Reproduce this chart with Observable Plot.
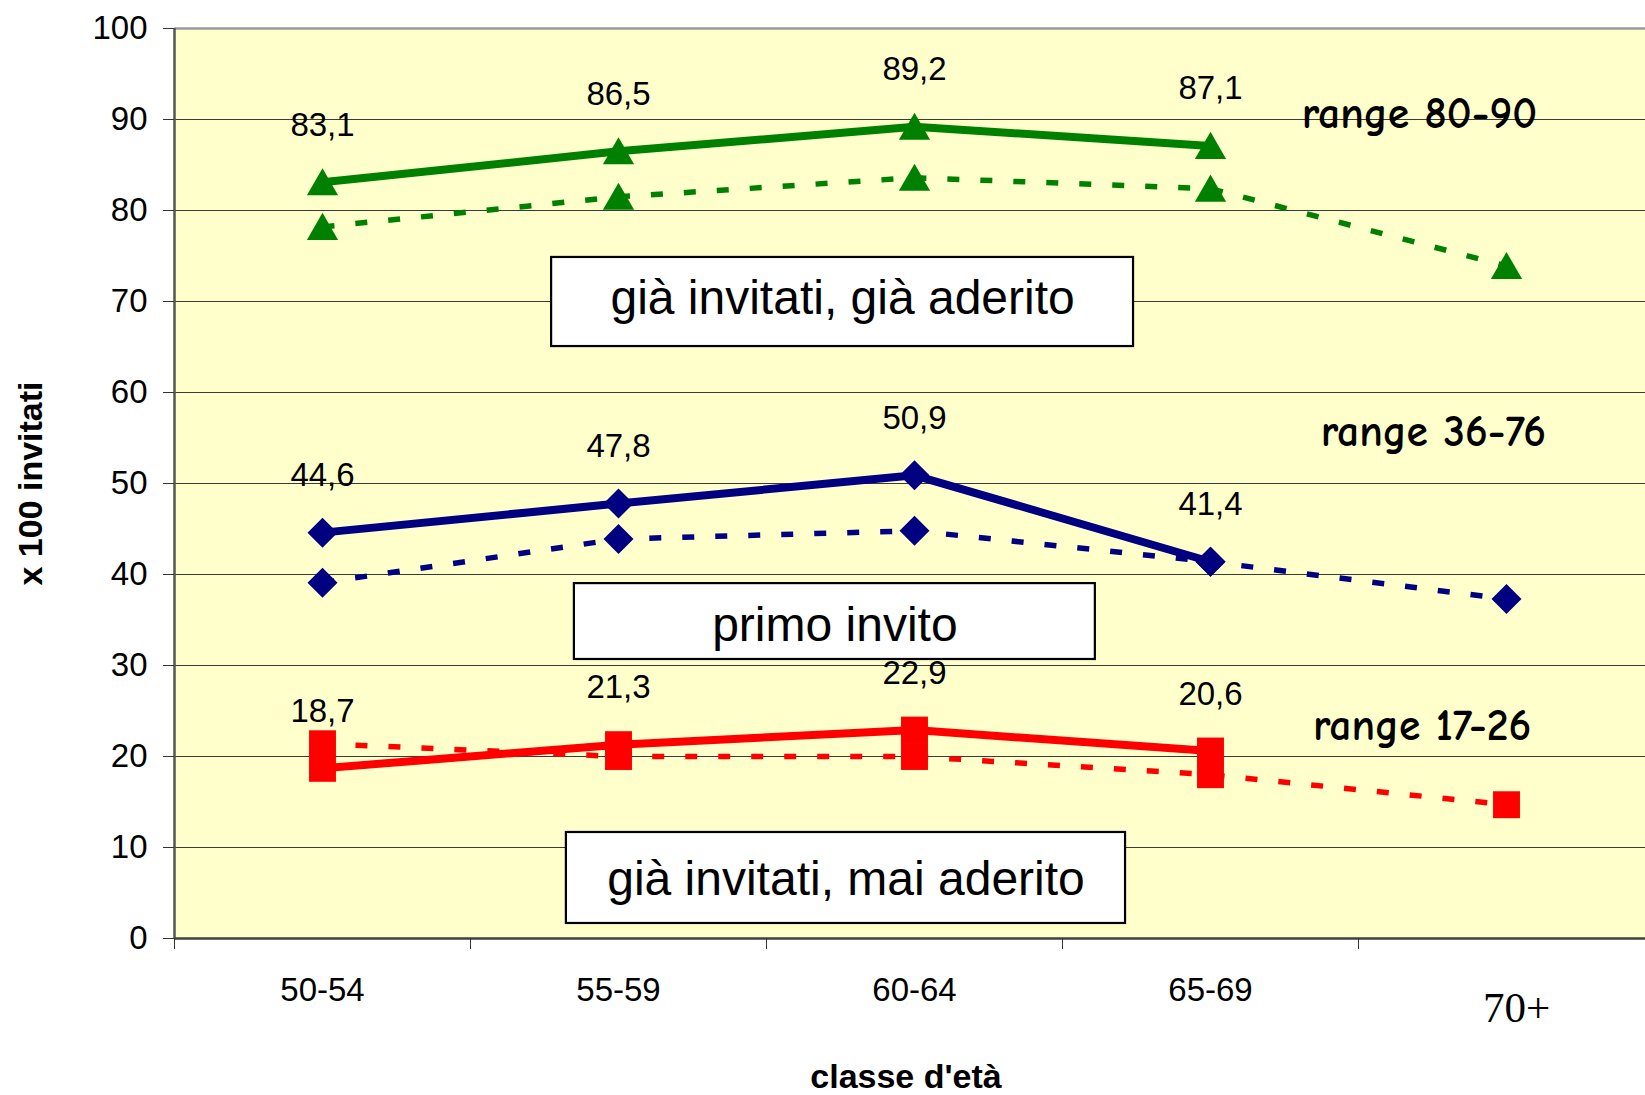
<!DOCTYPE html>
<html>
<head>
<meta charset="utf-8">
<script src="https://cdn.jsdelivr.net/npm/d3@7"></script>
<script src="https://cdn.jsdelivr.net/npm/@observablehq/plot@0.6"></script>
<style>
  html, body { margin: 0; padding: 0; background: #ffffff; }
  svg { display: block; }
</style>
</head>
<body>
<div id="chart"></div>
<script>
// ---- data ----
const categories = ["50-54", "55-59", "60-64", "65-69", "70+"];
const giaAderitoSolid  = [83.1, 86.5, 89.2, 87.1];
const giaAderitoDashed = [78.2, 81.5, 83.6, 82.4, 73.9];
const primoInvitoSolid  = [44.6, 47.8, 50.9, 41.4];
const primoInvitoDashed = [39.1, 43.9, 44.8, 41.4, 37.3];
const maiAderitoSolid  = [18.7, 21.3, 22.9, 20.6];
const maiAderitoDashed = [21.4, 20.0, 20.0, 18.0, 14.7];
const yTicks = [0, 10, 20, 30, 40, 50, 60, 70, 80, 90, 100];
const rangeLabels = ["range 80-90", "range 36-76", "range 17-26"];
const boxLabels = ["già invitati, già aderito", "primo invito", "già invitati, mai aderito"];
const yTitle = "x 100 invitati";
const xTitle = "classe d'età";

// ---- annotation anchors (data units) ----
const rangeLabelAnchors = [
  {x: 3.706, y: 90.55},
  {x: 3.753, y: 55.7},
  {x: 3.715, y: 23.3}
];
const boxAnchors = [
  {x1: 0.774, x2: 2.740, y1: 65.05, y2: 74.84, ty: 70.33},
  {x1: 0.851, x2: 2.611, y1: 30.66, y2: 39.0, ty: 34.4},
  {x1: 0.824, x2: 2.713, y1: 1.65, y2: 11.65, ty: 6.48}
];

// ---- build tables ----
const toRows = (vals) => vals.map((v, i) => ({i, v}));
const GREEN = "#008000", NAVY = "#000080", RED = "#ff0000";
const series = [
  {solid: toRows(giaAderitoSolid), dashed: toRows(giaAderitoDashed), color: GREEN, symbol: "triangle", r: 11.6, dy: 4},
  {solid: toRows(primoInvitoSolid), dashed: toRows(primoInvitoDashed), color: NAVY, symbol: "diamond2", r: 13.5, dy: 0},
  {solid: toRows(maiAderitoSolid), dashed: toRows(maiAderitoDashed), color: RED, symbol: "square", r: 15.2, dy: 0}
];
const ranges = rangeLabels.map((t, k) => ({t, ...rangeLabelAnchors[k]}));
const boxes = boxLabels.map((t, k) => ({t, ...boxAnchors[k]}));
const fmt = (v) => v.toFixed(1).replace(".", ",");

const SANS = "'Liberation Sans', Arial, sans-serif";
const SERIF = "'Liberation Serif', 'Times New Roman', serif";
const COMIC = "'Comic Sans MS', 'Comic Neue', 'DejaVu Sans', sans-serif";

const marks = [
  Plot.frame({fill: "#ffffcc", stroke: null}),
  Plot.gridY(yTicks.filter(t => t > 0 && t < 100), {stroke: "#3a3a3a", strokeOpacity: 1, strokeWidth: 1.2}),
  Plot.ruleY([100], {stroke: "#9a9a9a", strokeWidth: 2.5}),
];

for (const s of series) {
  marks.push(Plot.line(s.dashed, {x: "i", y: "v", stroke: s.color, strokeWidth: 5.5,
    strokeDasharray: "12,21", strokeLinecap: "butt", strokeLinejoin: "miter"}));
}
for (const s of series) {
  marks.push(Plot.line(s.solid, {x: "i", y: "v", stroke: s.color, strokeWidth: 8,
    strokeLinecap: "butt", strokeLinejoin: "round"}));
}
for (const s of series) {
  marks.push(Plot.dot(s.dashed, {x: "i", y: "v", symbol: s.symbol, r: s.r, fill: s.color, stroke: null, dy: s.dy}));
  marks.push(Plot.dot(s.solid, {x: "i", y: "v", symbol: s.symbol, r: s.r, fill: s.color, stroke: null, dy: s.dy}));
  marks.push(Plot.text(s.solid, {x: "i", y: "v", text: d => fmt(d.v), dy: -57,
    fontSize: 33, fontFamily: SANS, fill: "#000"}));
}

marks.push(
  Plot.text(ranges, {x: "x", y: "y", text: "t", fontSize: 43.5, fontWeight: "bold", fontFamily: COMIC, fill: "#000"}),
  Plot.rect(boxes, {x1: "x1", x2: "x2", y1: "y1", y2: "y2", fill: "#ffffff", stroke: "#000", strokeWidth: 2.2}),
  Plot.text(boxes, {x: d => (d.x1 + d.x2) / 2, y: "ty", text: "t", fontSize: 48, fontFamily: SANS, fill: "#000"}),
  // axes
  Plot.ruleY([0], {stroke: "#404040", strokeWidth: 2.5}),
  Plot.ruleX([-0.5], {stroke: "#555", strokeWidth: 2.5}),
  Plot.axisY(yTicks, {anchor: "left", tickSize: 11, tickPadding: 16, fontSize: 33, fontFamily: SANS,
    stroke: "#333", color: "#000", label: null}),
  Plot.axisX([-0.5, 0.5, 1.5, 2.5, 3.5], {anchor: "bottom", tickSize: 11, tickFormat: () => "",
    stroke: "#333", label: null}),
  Plot.axisX([0, 1, 2, 3], {anchor: "bottom", tickSize: 0, tickPadding: 39, fontSize: 33, fontFamily: SANS,
    tickFormat: i => categories[i], label: null}),
  Plot.axisX([4], {anchor: "bottom", tickSize: 0, tickPadding: 53, fontSize: 43, fontFamily: SERIF,
    tickFormat: i => categories[i], dx: 10, label: null}),
  Plot.text([yTitle], {frameAnchor: "left", textAnchor: "middle", lineAnchor: "middle", dx: -143, rotate: -90,
    fontSize: 34, fontWeight: "bold", fontFamily: SANS, fill: "#000"}),
  Plot.text([xTitle], {frameAnchor: "bottom", textAnchor: "middle", lineAnchor: "middle", dy: 139, dx: -4,
    fontSize: 34, fontWeight: "bold", fontFamily: SANS, fill: "#000"})
);

const chart = Plot.plot({
  width: 1645,
  height: 1095,
  marginLeft: 174,
  marginRight: 0,
  marginTop: 28,
  marginBottom: 157,
  x: {type: "linear", domain: [-0.5, 4.5], range: [174, 1654]},
  y: {type: "linear", domain: [0, 100], range: [938, 28]},
  style: {background: "#ffffff", fontFamily: SANS, color: "#000", overflow: "visible"},
  marks
});
document.getElementById("chart").appendChild(chart);
</script>
</body>
</html>
